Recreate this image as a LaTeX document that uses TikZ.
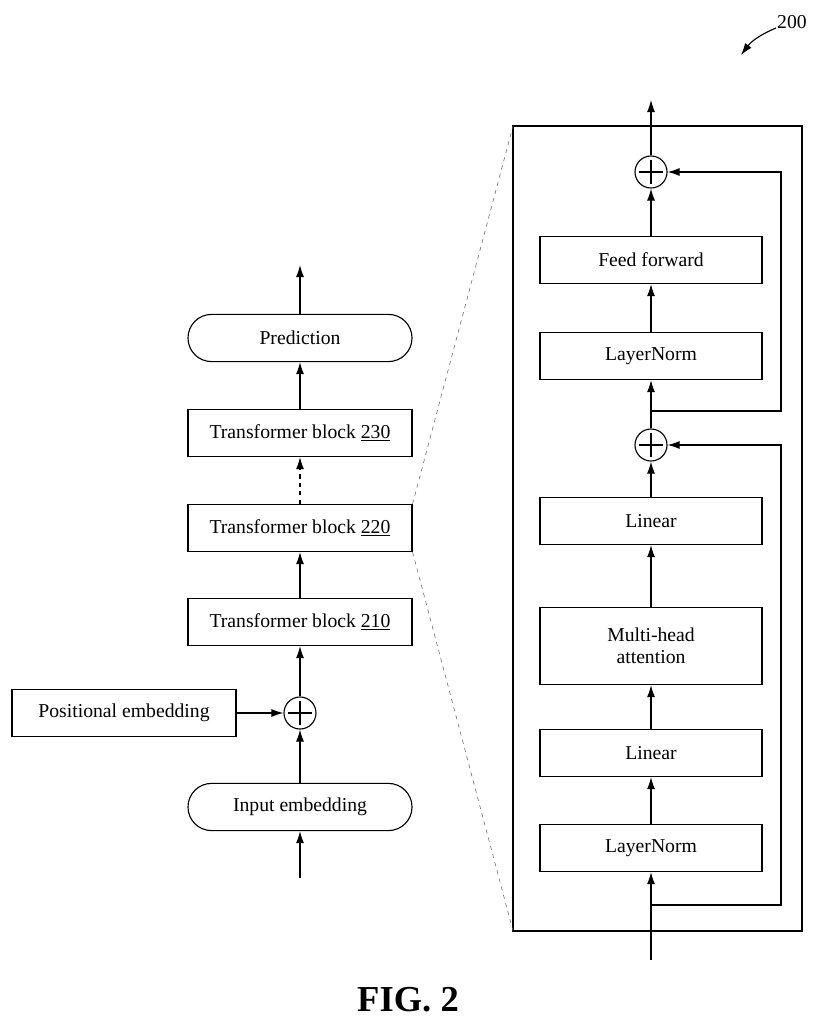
\documentclass[tikz,border=0pt]{standalone}
\usepackage{fontspec}
\setmainfont{Liberation Serif}
\usetikzlibrary{arrows.meta,positioning}
\tikzset{
    >={Latex[length=3mm,width=2mm]},
    %boxes
    block/.style={
           rectangle,
           draw=black, thick,
           minimum width=5.6cm,
           minimum height=1.18cm,
           font=\fontsize{14}{16}\selectfont,
           align=center},
    inner block/.style={
           block,
           minimum width=5.55cm},
    rounded block/.style={
           block,
           rounded corners=0.59cm},
    adder/.style={
           circle,
           draw=black, thick,
           minimum size=0.8cm,
           inner sep=0pt,
           path picture={\draw[thick] ([yshift=-0.1cm]path picture bounding box.north) -- ([yshift=0.1cm]path picture bounding box.south)
              ([xshift=0.1cm]path picture bounding box.west) -- ([xshift=-0.1cm]path picture bounding box.east);}},
    pil/.style={->, thick}
}
\begin{document}
\begin{tikzpicture}[x=0.025cm,y=-0.025cm]
\useasboundingbox (0,0) rectangle (815,1024);
 %left column
\node[rounded block](pred) at (300,338){Prediction};
\node[block](tb230) at (300,433){Transformer block \underline{230}};
\node[block](tb220) at (300,528){Transformer block \underline{220}};
\node[block](tb210) at (300,622){Transformer block \underline{210}};
\node[adder](addL) at (300,713){};
\node[block](pos) at (124,713){Positional embedding};
\node[rounded block](inp) at (300,807){Input embedding};
\coordinate (inL) at (300,878);
\coordinate (outL) at (300,265);
 %right column
\node[inner block](ff) at (651,260){Feed forward};
\node[inner block](ln2) at (651,356){LayerNorm};
\node[inner block](lin2) at (651,521){Linear};
\node[inner block, minimum height=1.93cm](mha) at (651,646){Multi-head\\attention};
\node[inner block](lin1) at (651,753){Linear};
\node[inner block](ln1) at (651,848){LayerNorm};
\node[adder](addT) at (651,172){};
\node[adder](addM) at (651,445){};
\coordinate (inR) at (651,960);
\coordinate (outR) at (651,100);
\coordinate (br1) at (651,905);
\coordinate (br2) at (651,411);
\draw[very thick] (513,126) rectangle (802,931);
 %arrows
\draw[pil] (inL) -- (inp);
\draw[pil] (inp) -- (addL);
\draw[pil] (pos) -- (addL);
\draw[pil] (addL) -- (tb210);
\draw[pil] (tb210) -- (tb220);
\draw[pil, dashed] (tb220) -- (tb230);
\draw[pil] (tb230) -- (pred);
\draw[pil] (pred) -- (outL);
\draw[pil] (inR) -- (ln1);
\draw[pil] (ln1) -- (lin1);
\draw[pil] (lin1) -- (mha);
\draw[pil] (mha) -- (lin2);
\draw[pil] (lin2) -- (addM);
\draw[pil] (addM) -- (ln2);
\draw[pil] (ln2) -- (ff);
\draw[pil] (ff) -- (addT);
\draw[pil] (addT) -- (outR);
\draw[pil] (br1) -| (781,445) -- (addM);
\draw[pil] (br2) -| (781,172) -- (addT);
 %zoom lines
\draw[dashed, black!60] (tb220.north east) -- (513,126);
\draw[dashed, black!60] (tb220.south east) -- (513,931);
 %labels
\node[font=\fontsize{14}{16}\selectfont](ref) at (792,22){200};
\draw[->, thick] (776,28) to[bend right=15] (741,55);
\node[font=\fontsize{26}{30}\selectfont\bfseries](fig) at (408,1000){FIG. 2};
\end{tikzpicture}
\end{document}
